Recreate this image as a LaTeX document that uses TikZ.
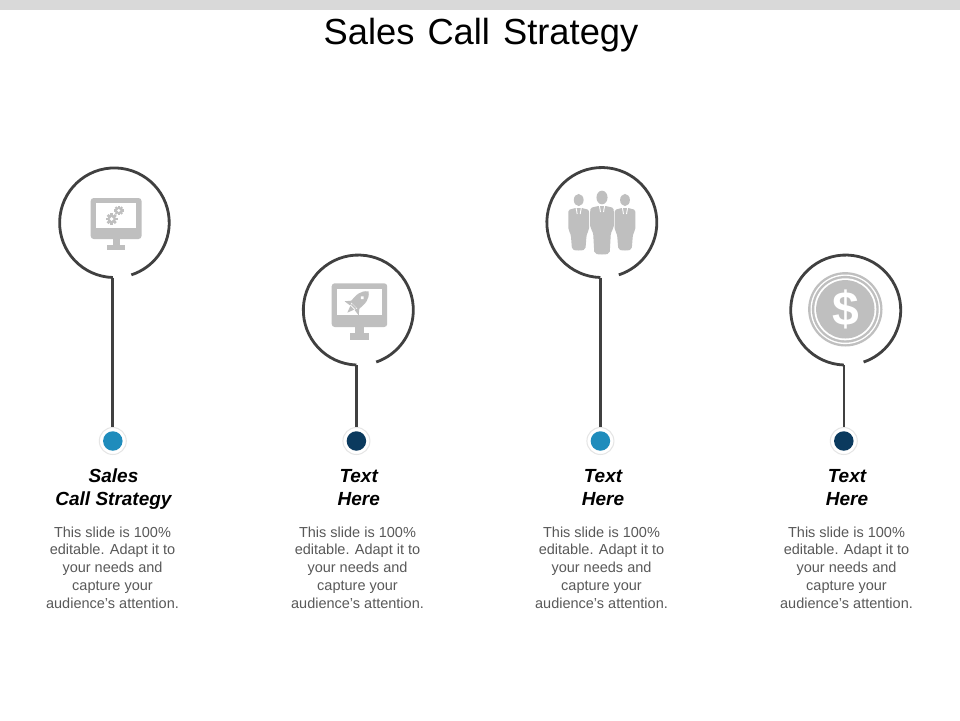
\documentclass[tikz,border=0pt]{standalone}
\usepackage{fontspec}
\setmainfont{Liberation Sans}
\definecolor{ringc}{HTML}{404040}
\definecolor{iconc}{HTML}{BFBFBF}
\definecolor{bluec}{HTML}{1F8CBC}
\definecolor{navyc}{HTML}{0B3A5E}
\definecolor{bodyc}{HTML}{595959}
\definecolor{barc}{HTML}{D9D9D9}
\newcommand{\apos}{\symbol{39}}
\newcommand{\bodytext}{This slide is 100\%\\editable. Adapt it to\\your needs and\\capture your\\audience\apos s attention.}
\tikzset{
  ringline/.style={draw=ringc,line width=2.8pt},
  stem/.style={draw=ringc,line width=2.8pt},
  halo/.style={circle,draw=black!10,line width=1pt,fill=white,minimum size=27pt,inner sep=0pt},
  dotc/.style={circle,minimum size=19.5pt,inner sep=0pt},
  head/.style={font=\bfseries\itshape\fontsize{19}{23}\selectfont,align=center,text=black,inner sep=0pt},
  bodyt/.style={font=\fontsize{14.5}{17.8}\selectfont,align=center,text=bodyc,inner sep=0pt},
  ico/.style={fill=iconc,draw=none}
}
\newcommand{\gearshape}[4]{% x y r colour
  \begin{scope}[shift={(#1,#2)}]
    \foreach \a in {0,45,...,315}{\fill[#4,rotate=\a] (-#3*0.22,0) rectangle (#3*0.22,#3);}
    \fill[#4] (0,0) circle ({#3*0.74});
    \fill[white] (0,0) circle ({#3*0.34});
  \end{scope}}
\newcommand{\person}[5]{% cx headcy bodytop bodybottom halfwidth
  \fill[iconc] (#1,#2) ellipse ({#5*0.47} and {#5*0.58});
  \fill[iconc] ({#1-#5*0.3},#3) -- ({#1-#5*0.85},{#3+1.5}) .. controls ({#1-#5},{#3+2}) and ({#1-#5},{#3+4}) .. ({#1-#5},{#3+6})
    -- ({#1-#5},{#3+20}) .. controls ({#1-#5},{#3+23}) and ({#1-#5*0.76},{#3+25}) .. ({#1-#5*0.74},{#3+29})
    -- ({#1-#5*0.66},{#4-3}) .. controls ({#1-#5*0.64},{#4-0.5}) and ({#1-#5*0.4},{#4}) .. (#1,#4)
    .. controls ({#1+#5*0.4},{#4}) and ({#1+#5*0.64},{#4-0.5}) .. ({#1+#5*0.66},{#4-3})
    -- ({#1+#5*0.74},{#3+29}) .. controls ({#1+#5*0.76},{#3+25}) and ({#1+#5},{#3+23}) .. ({#1+#5},{#3+20})
    -- ({#1+#5},{#3+6}) .. controls ({#1+#5},{#3+4}) and ({#1+#5},{#3+2}) .. ({#1+#5*0.85},{#3+1.5})
    -- ({#1+#5*0.3},#3) -- cycle;
  \draw[white,line width=0.9pt] ({#1-2.6},{#3-0.2}) -- ({#1-1.5},{#3+6});
  \draw[white,line width=0.9pt] ({#1+2.6},{#3-0.2}) -- ({#1+1.5},{#3+6});
}
\begin{document}
\begin{tikzpicture}[x=1pt,y=1pt,yscale=-1]
\useasboundingbox (0,0) rectangle (960,720);
\fill[white] (0,0) rectangle (960,720);
\fill[barc] (0,0) rectangle (960,10);
\node[font=\fontsize{36.3}{44}\selectfont,inner sep=0pt,anchor=center] (title) at (481,35.5) {Sales\hspace{3pt} Call\hspace{3pt} Strategy};

% rings
\draw[ringline] (112.8,277.5) coordinate (foot1) arc[start angle=91.7,end angle=432,radius=54.8];
\draw[ringline] (356.4,365) coordinate (foot2) arc[start angle=92,end angle=431,radius=55];
\draw[ringline] (600.4,277.5) coordinate (foot3) arc[start angle=91.5,end angle=432,radius=55];
\draw[ringline] (843.8,365) coordinate (foot4) arc[start angle=92,end angle=431,radius=55];

% dots
\node[halo] (halo1) at (112.8,441) {};
\node[dotc,fill=bluec] (dot1) at (112.8,441) {};
\node[halo] (halo2) at (356.4,441) {};
\node[dotc,fill=navyc] (dot2) at (356.4,441) {};
\node[halo] (halo3) at (600.4,441) {};
\node[dotc,fill=bluec] (dot3) at (600.4,441) {};
\node[halo] (halo4) at (843.8,441) {};
\node[dotc,fill=navyc] (dot4) at (843.8,441) {};

% stems
\draw[stem] (foot1) -- (halo1);
\draw[stem] (foot2) -- (halo2);
\draw[stem] (foot3) -- (halo3);
\draw[stem,line width=2pt] (foot4) -- (halo4);

% monitor 1
\fill[ico,rounded corners=3pt] (90.7,198) rectangle (141.5,239);
\fill[white] (96,203.3) rectangle (136.2,228.2);
\fill[ico] (113,239) rectangle (120,246);
\fill[ico] (107,245) rectangle (124.5,250);
\gearshape{111.7}{219}{5.8}{iconc}
\gearshape{118.8}{210.5}{4.8}{iconc}

% monitor 2
\fill[ico,rounded corners=3pt] (331.7,283.3) rectangle (387.2,327);
\fill[white] (337.2,289.3) rectangle (381.7,315);
\fill[ico] (355,327) rectangle (363.5,334);
\fill[ico] (350,333.3) rectangle (368.7,339.5);
\begin{scope}[shift={(358,302)},rotate=-45]
  \fill[iconc] (15,0) .. controls (10,-6.5) and (4,-6.5) .. (-5,-5.5) -- (-5,5.5) .. controls (4,6.5) and (10,6.5) .. (15,0) -- cycle;
  \fill[iconc] (-3,-5) -- (-9,-10) -- (-8,-3) -- cycle;
  \fill[iconc] (-3,5) -- (-9,10) -- (-8,3) -- cycle;
  \fill[iconc] (-7,-3) rectangle (-5.5,3);
  \fill[iconc] (-10,-2) -- (-8,-2.5) -- (-8,2.5) -- (-10,2) -- (-15,0) -- cycle;
  \fill[white] (6,0) circle (1.8);
\end{scope}

% people
\person{578.7}{200}{208}{250.5}{10.4}
\person{625}{200}{208}{250.5}{10.4}
\person{602}{197.5}{206}{254.5}{11.8}

% coin
\fill[iconc] (845.3,309.3) circle (37.2);
\fill[white] (845.3,309.3) circle (34.8);
\fill[iconc] (845.3,309.3) circle (33.4);
\fill[white] (845.3,309.3) circle (31);
\fill[iconc] (845.3,309.3) circle (29.2);
\node[font=\bfseries\fontsize{48}{48}\selectfont,text=white,inner sep=0pt] (dollar) at (845.7,309.3) {\$};

% labels
\node[head] (h1) at (113.5,489) {Sales\\Call Strategy};
\node[head] (h2) at (358.7,488) {Text\\Here};
\node[head] (h3) at (603,488) {Text\\Here};
\node[head] (h4) at (847,488) {Text\\Here};
\node[bodyt] (b1) at (112.5,567.5) {\bodytext};
\node[bodyt] (b2) at (357.5,567.5) {\bodytext};
\node[bodyt] (b3) at (601.5,567.5) {\bodytext};
\node[bodyt] (b4) at (846.5,567.5) {\bodytext};
\end{tikzpicture}
\end{document}
